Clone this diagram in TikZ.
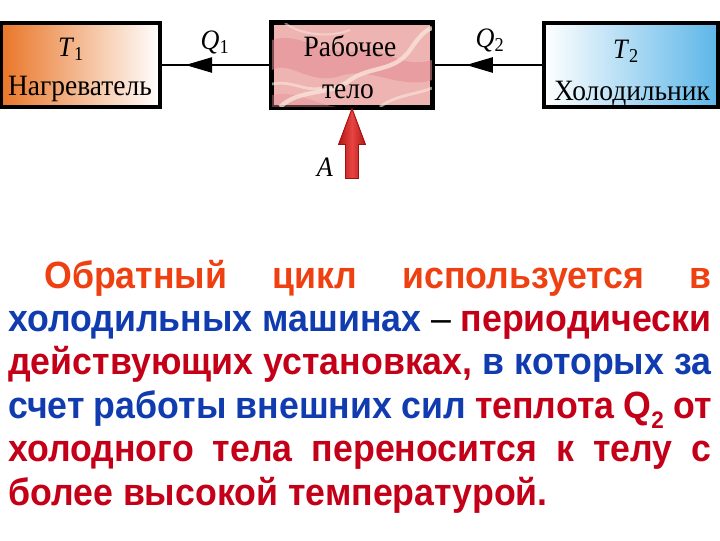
\documentclass[tikz,border=0pt]{standalone}
\usepackage{amsmath}
\usepackage{fontspec}
\setmainfont{Liberation Serif}[FakeStretch=0.93]
\newfontfamily\parafont[FakeStretch=0.94]{Liberation Sans}
\usetikzlibrary{calc,arrows.meta,decorations.markings}
\definecolor{hotorange}{RGB}{233,118,40}
\definecolor{coldblue}{RGB}{92,182,232}
\definecolor{bodypink}{RGB}{238,180,178}
\definecolor{bodydark}{RGB}{228,140,146}
\definecolor{bodylight}{RGB}{250,232,222}
\definecolor{firstred}{RGB}{238,64,16}
\definecolor{textblue}{RGB}{16,60,176}
\definecolor{textred}{RGB}{196,0,24}
\definecolor{workred}{RGB}{226,36,32}
\definecolor{workdark}{RGB}{160,16,16}
\tikzset{
    box/.style={draw=black,line width=2.2pt,minimum height=84*0.025cm,inner sep=0pt},
    boxtext/.style={font=\fontsize{21}{21}\selectfont,inner sep=0pt},
    symtext/.style={font=\fontsize{20}{20}\selectfont,inner sep=0pt},
    flow/.style={line width=0.8pt,postaction={decorate},
        decoration={markings,mark=at position #1 with {\arrow{Triangle[length=19pt,width=11pt]}}}},
    paraline/.style={anchor=base west,inner sep=0pt,
        font=\parafont\bfseries\fontsize{27}{27}\selectfont}
}
\begin{document}
\begin{tikzpicture}[x=0.025cm,y=-0.025cm]
    \useasboundingbox (0,0) rectangle (720,540);

    % the three bodies
    \node[box,minimum width=159*0.025cm,left color=hotorange,right color=white] (heater) at (80.5,65) {};
    \node[box,minimum width=160*0.025cm,fill=bodypink] (body) at (352,65) {};
    \node[box,minimum width=174*0.025cm,left color=white,right color=coldblue] (cooler) at (631,65) {};

    % marble pattern of the working body
    \begin{scope}
        \clip (body.south west) rectangle (body.north east);
        \fill[bodydark,opacity=.55] (272,40) .. controls (300,30) and (330,60) .. (360,50)
            .. controls (380,44) and (400,70) .. (432,60) -- (432,80)
            .. controls (400,90) and (370,66) .. (340,76) .. controls (310,86) and (290,60) .. (272,70) -- cycle;
        \fill[bodydark,opacity=.4] (272,95) .. controls (300,90) and (320,107) .. (340,107) -- (272,107) -- cycle;
        \draw[bodylight,line width=3pt,opacity=.75] (280,107) .. controls (300,88) and (330,96) .. (350,80)
            .. controls (370,66) and (395,72) .. (410,50) .. controls (418,38) and (425,30) .. (432,28);
        \draw[bodylight,line width=2pt,opacity=.6] (272,84) .. controls (292,80) and (305,92) .. (322,88);
        \draw[bodylight,line width=2pt,opacity=.6] (380,107) .. controls (395,95) and (415,95) .. (432,88);
        \draw[bodylight,line width=1.5pt,opacity=.5] (285,23) .. controls (300,35) and (330,38) .. (350,30);
    \end{scope}
    \draw[line width=2.2pt] (body.south west) rectangle (body.north east);

    % texts in the boxes
    \node[symtext] (t1) at (71,49) {\textit{T}$_{\text{1}}$};
    \node[boxtext,anchor=base] (heatname) at (80,95) {Нагреватель};
    \node[boxtext,anchor=base] (bodyname1) at (350,56) {Рабочее};
    \node[boxtext,anchor=base] (bodyname2) at (348,98) {тело};
    \node[symtext] (t2) at (626,51) {\textit{T}$_{\text{2}}$};
    \node[boxtext,anchor=base] (coolname) at (632,100) {Холодильник};

    % heat flows
    \draw[flow=0.78] (body.west) -- (heater.east);
    \draw[flow=0.70] (cooler.west) -- (body.east);
    \node[symtext] (q1) at (215,42) {\textit{Q}$_{\text{1}}$};
    \node[symtext] (q2) at (490,40) {\textit{Q}$_{\text{2}}$};

    % work of external forces
    \coordinate (worktail) at ($(body.south)+(0,70)$);
    \filldraw[left color=workdark!70!workred,right color=workdark!70!workred,middle color=workred!85!white,
        draw=workdark,line width=0.6pt] (body.south) -- ++(13.5,36) -- ++(-7,0)
        -- ($(worktail)+(6.5,0)$) -- ($(worktail)+(-6.5,0)$) -- ++(0,-34) -- ++(-7,0) -- cycle;
    \node[symtext] (work) at (325,167) {\textit{A}};

    % text under the diagram
    \node[paraline] (l1) at (44,288) {\makebox[16.675cm][s]{\color{firstred}Обратный цикл используется в}};
    \node[paraline] (l2) at (8,331.4) {\makebox[17.575cm][s]{\color{textblue}холодильных машинах \color{black}{\mdseries –} \color{textred}периодически}};
    \node[paraline] (l3) at (8,374.8) {\makebox[17.575cm][s]{\color{textred}действующих установках, \color{textblue}в которых за}};
    \node[paraline] (l4) at (8,418.2) {\makebox[17.575cm][s]{\color{textblue}счет работы внешних сил \color{textred}теплота Q\raisebox{-0.5ex}{\fontsize{17}{17}\selectfont 2} от}};
    \node[paraline] (l5) at (8,461.6) {\makebox[17.575cm][s]{\color{textred}холодного тела переносится к телу с}};
    \node[paraline] (l6) at (8,505) {\color{textred}более высокой температурой.};
\end{tikzpicture}
\end{document}
